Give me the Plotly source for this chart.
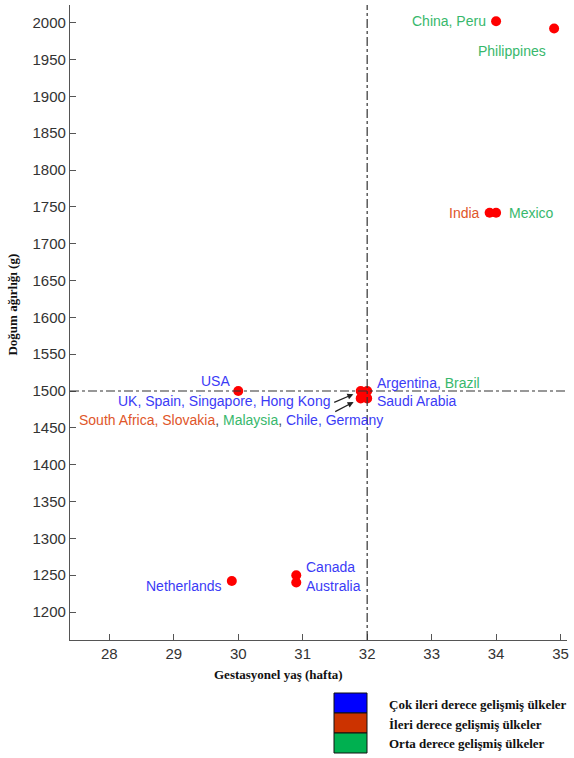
import plotly.graph_objects as go

# ---- data ----
gest_weeks = [34.0, 34.9, 33.9, 34.0, 30.0, 31.9, 32.0, 31.9, 32.0, 29.9, 30.9, 30.9]
birth_weight = [2002, 1992, 1742, 1742, 1500, 1500, 1500, 1490, 1490, 1242, 1250, 1240]
x_ticks = [28, 29, 30, 31, 32, 33, 34, 35]
y_ticks = list(range(1200, 2001, 50))
ref_x = 32
ref_y = 1500
legend_labels = ["Çok ileri derece gelişmiş ülkeler",
                 "İleri derece gelişmiş ülkeler",
                 "Orta derece gelişmiş ülkeler"]
legend_colors = ["#0000ff", "#cc3300", "#00b050"]

BLUE = "#3b3bf6"
RED = "#e0562a"
GREEN = "#38b86c"
DARK = "#444444"

fig = go.Figure()
fig.add_trace(go.Scatter(
    x=gest_weeks, y=birth_weight, mode="markers",
    marker=dict(color="#ff0000", size=10, line=dict(width=0)),
    showlegend=False, hoverinfo="skip"))

# reference lines
fig.add_shape(type="line", xref="x", yref="paper", x0=ref_x, x1=ref_x, y0=0, y1=1,
              line=dict(color="#333333", width=1.2, dash="dashdot"))
fig.add_shape(type="line", xref="paper", yref="y", x0=0, x1=1, y0=ref_y, y1=ref_y,
              line=dict(color="#333333", width=1.2, dash="dashdot"))

FONT = "Liberation Sans, Arial, sans-serif"
def lab(text, i, xanchor, xshift=0, yshift=0, color=BLUE):
    fig.add_annotation(x=gest_weeks[i], y=birth_weight[i], text=text, showarrow=False,
                       xanchor=xanchor, yanchor="middle", xshift=xshift, yshift=yshift,
                       font=dict(family=FONT, size=14, color=color))

lab("China, Peru", 0, "right", -8, 0, GREEN)
lab("Philippines", 1, "center", -42, -22, GREEN)
lab("India", 2, "right", -8, 0, RED)
lab("Mexico", 3, "left", 11, 0, GREEN)
lab("USA", 4, "right", -6, 10, BLUE)
lab(f"Argentina, <span style='color:{GREEN}'>Brazil</span>", 6, "left", 8, 8, BLUE)
lab("Saudi Arabia", 8, "left", 8, -3, BLUE)
lab("UK, Spain, Singapore, Hong Kong", 5, "right", -29, -10, BLUE)
lab(f"<span style='color:{RED}'>South Africa, Slovakia</span>, "
    f"<span style='color:{GREEN}'>Malaysia</span>, "
    f"<span style='color:{BLUE}'>Chile, Germany</span>", 7, "right", 24, -22, DARK)
lab("Netherlands", 9, "right", -8, -5, BLUE)
lab("Canada", 10, "left", 8, 8, BLUE)
lab("Australia", 11, "left", 8, -3, BLUE)

# arrows
for i, (ax, ay) in zip([5, 7], [(-28, 12), (-27, 14)]):
    fig.add_annotation(x=gest_weeks[i], y=birth_weight[i], text="", showarrow=True,
                       ax=ax, ay=ay, arrowhead=2, arrowsize=1, arrowwidth=1.2,
                       arrowcolor="#222222", standoff=8)

# axis titles
SERIF = "Liberation Serif, Times New Roman, serif"
TITLE_FONT = dict(family=SERIF, size=13, color="#111111")
fig.add_annotation(xref="paper", yref="paper", x=0.42, y=-0.055,
                   text="<b>Gestasyonel yaş (hafta)</b>", showarrow=False,
                   xanchor="center", yanchor="middle", font=TITLE_FONT)
fig.add_annotation(xref="paper", yref="paper", x=-0.115, y=0.528,
                   text="<b>Doğum ağırlığı (g)</b>", showarrow=False, textangle=-90,
                   xanchor="center", yanchor="middle", font=TITLE_FONT)

# custom legend
L, R, T, B = 70, 567, 5, 640
W, H = R - L, B - T
def px(x): return (x - L) / W
def py(y): return (B - y) / H
box_tops = [693, 713, 733]
for k, (lbl, col) in enumerate(zip(legend_labels, legend_colors)):
    y0 = box_tops[k]
    fig.add_shape(type="rect", xref="paper", yref="paper",
                  x0=px(334), x1=px(367), y0=py(y0), y1=py(y0 + 20),
                  fillcolor=col, line=dict(color="#111111", width=1))
    fig.add_annotation(xref="paper", yref="paper", x=px(387), y=py(y0 + 11),
                       text=f"<b>{lbl}</b>", showarrow=False, xanchor="left", yanchor="middle",
                       font=dict(family=SERIF, size=13, color="#111111"))

axis_common = dict(showgrid=False, zeroline=False, showline=True, linecolor="#555555",
                   linewidth=1.2, ticks="inside", ticklen=6, tickcolor="#555555",
                   tickfont=dict(family=FONT, size=15, color="#333333"), mirror=False,
                   automargin=False)
fig.update_xaxes(range=[27.39, 35.1], tickvals=x_ticks, **axis_common)
fig.update_yaxes(range=[1162, 2024], tickvals=y_ticks, **axis_common)

fig.update_layout(width=574, height=758, margin=dict(l=L, r=574 - R, t=T, b=758 - B),
                  plot_bgcolor="white", paper_bgcolor="white", showlegend=False)

fig.write_html("out.html", config={"displayModeBar": False},
               post_script="document.body.style.margin='0';document.body.style.overflow='hidden';")
